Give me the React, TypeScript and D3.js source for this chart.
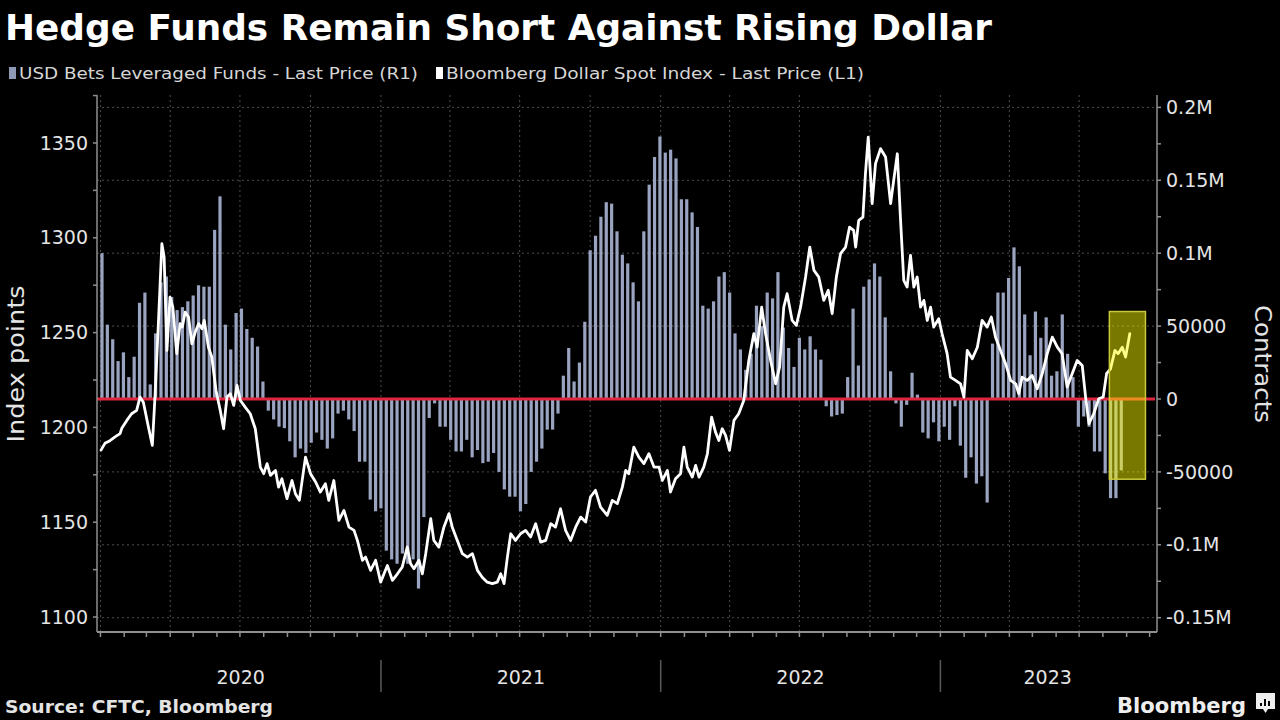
import React from 'react';
import * as d3 from 'd3';

const W = 1280;
const H = 720;

const TITLE = 'Hedge Funds Remain Short Against Rising Dollar';
const LEGEND_BARS = 'USD Bets Leveraged Funds - Last Price (R1)';
const LEGEND_LINE = 'Bloomberg Dollar Spot Index - Last Price (L1)';
const SOURCE = 'Source: CFTC, Bloomberg';
const BRAND = 'Bloomberg';
const LEFT_TITLE = 'Index points';
const RIGHT_TITLE = 'Contracts';

const yearLabels = ['2020', '2021', '2022', '2023'];
const leftTicks = [1100, 1150, 1200, 1250, 1300, 1350];
const rightTicks = [-150000, -100000, -50000, 0, 50000, 100000, 150000, 200000];
const rightTickLabels = ['-0.15M', '-0.1M', '-50000', '0', '50000', '0.1M', '0.15M', '0.2M'];

// CFTC leveraged funds USD net position, weekly from 2020-01-03, thousands of contracts
const betsFirstWeek = new Date(2020, 0, 3);
const usdBetsK = [
  100, 51, 41, 26, 32, 15, 29, 66, 73, 10, 45, 80, 84, 70, 61, 63, 67, 71, 78, 77,
  77, 116, 139, 51, 34, 59, 62, 48, 42, 36, 12, -8, -14, -19, -20, -29, -40, -34, -37, -30,
  -23, -28, -34, -27, -10, -8, -14, -22, -43,
  -43, -69, -77, -75, -104, -110, -113, -106, -113, -110, -130, -81, -13, -3, -19, -19, -28, -36, -36, -28,
  -40, -35, -44, -43, -37, -50, -62, -67, -67, -77, -72, -50, -43, -34, -21, -21, -10, 16, 35, 12,
  25, 53, 102, 112, 125, 135, 134, 115, 99,
  93, 80, 67, 115, 147, 166, 180, 169, 171, 165, 137, 137, 128, 118, 64, 62, 67, 84, 87, 73,
  45, 34, 20, 31, 64, 50, 73, 69, 87, 49, 35, 22, 42, 34, 43, 34, 27, -5, -12, -11,
  -10, 15, 62, 23, 77, 82, 93, 84, 56, 19,
  -3, -19, -4, 18, 3, -23, -27, -16, -29, -19, -28, -5, -32, -54, -40, -58, -53, -71, 38, 73,
  73, 83, 104, 91, 58, 30, 60, 42, 56, 16, 19, 58, 31, 15, -19, -12, -19, -36, -36, -51,
  -68, -68, -49,
];

// Bloomberg Dollar Spot Index: time in years since 2020-01-01, and index level
const dollarYears = [
  0.002, 0.016, 0.034, 0.052, 0.070, 0.076, 0.094, 0.111, 0.129, 0.141, 0.153, 0.171, 0.185, 0.195, 0.207, 0.219, 0.227, 0.237, 0.248, 0.258,
  0.272, 0.284, 0.292, 0.302, 0.314, 0.326, 0.338, 0.350, 0.362, 0.370, 0.385, 0.397, 0.412, 0.427, 0.439, 0.451, 0.463, 0.475, 0.487, 0.499,
  0.516, 0.534, 0.552, 0.570, 0.582, 0.594, 0.606, 0.624, 0.635, 0.647, 0.665, 0.683, 0.695, 0.709, 0.731, 0.749, 0.767, 0.784, 0.802, 0.814,
  0.832, 0.850, 0.868, 0.886, 0.904, 0.916, 0.934,
  0.945, 0.963, 0.981, 0.999, 1.011, 1.023, 1.041, 1.059, 1.076, 1.094, 1.106, 1.118, 1.136, 1.148, 1.160, 1.178, 1.189, 1.207, 1.225, 1.243,
  1.255, 1.273, 1.291, 1.309, 1.327, 1.345, 1.362, 1.380, 1.398, 1.416, 1.428, 1.440, 1.452, 1.464, 1.481, 1.499, 1.517, 1.535, 1.553, 1.571,
  1.589, 1.607, 1.624, 1.642, 1.660, 1.678, 1.696, 1.714, 1.732, 1.749, 1.767, 1.785, 1.809, 1.827, 1.845, 1.863,
  1.875, 1.886, 1.904, 1.922, 1.940, 1.958, 1.976, 1.994, 2.006, 2.024, 2.035, 2.053, 2.071, 2.083, 2.095, 2.113, 2.125, 2.137, 2.154, 2.167,
  2.182, 2.196, 2.208, 2.220, 2.232, 2.246, 2.262, 2.279, 2.297, 2.315, 2.333, 2.345, 2.361, 2.375, 2.393, 2.411, 2.425, 2.440, 2.452, 2.470,
  2.485, 2.500, 2.518, 2.533, 2.548, 2.565, 2.583, 2.599, 2.613, 2.628, 2.643, 2.661, 2.675, 2.690, 2.697, 2.708, 2.723, 2.732, 2.742,
  2.756, 2.768, 2.786, 2.804, 2.822, 2.833, 2.846, 2.857, 2.869, 2.881, 2.893, 2.905, 2.917, 2.929, 2.941, 2.953, 2.965, 2.976, 2.994, 3.006,
  3.024, 3.036, 3.054, 3.072, 3.084, 3.096, 3.114, 3.132, 3.149, 3.167, 3.182, 3.197, 3.215, 3.233, 3.251, 3.269, 3.280, 3.292, 3.310, 3.328,
  3.346, 3.364, 3.382, 3.400, 3.418, 3.435, 3.453, 3.471, 3.489, 3.507, 3.519, 3.531, 3.548, 3.566, 3.582, 3.594, 3.608, 3.624, 3.635, 3.650,
  3.662, 3.677,
];
const dollarValues = [
  1188, 1191.6, 1193, 1195, 1196.7, 1199.5, 1203.7, 1207.2, 1209, 1216, 1213.3, 1200.2, 1190.5, 1217.8, 1256.4, 1296.9, 1289.8, 1240.6, 1268.7, 1263.4,
  1238.9, 1254.7, 1252.9, 1260.8, 1258.2, 1244.1, 1250.3, 1254.7, 1252, 1256.4, 1242.3, 1237.1, 1219.5, 1209, 1199.3, 1216, 1217.8, 1211.6, 1222.1, 1214.2,
  1210.7, 1207.2, 1199.3, 1179.1, 1175.6, 1180.9, 1174.7, 1177.3, 1168.5, 1172.9, 1162.4, 1172, 1165, 1161.5, 1184.3, 1175.6, 1171.2, 1165.9, 1170.3, 1161.5,
  1172, 1151, 1156.2, 1147.4, 1145.7, 1140.4, 1129.9,
  1131.6, 1124.6, 1129.9, 1118.4, 1122.8, 1127.2, 1119.3, 1122.8, 1126.3, 1136.9, 1128.1, 1125.5, 1129.9, 1122.8, 1133.4, 1151.9, 1140.4, 1136.9, 1147.4, 1154.5,
  1147.4, 1140.4, 1133.4, 1131.6, 1133.4, 1124.6, 1121, 1118.4, 1117.6, 1118.4, 1122.8, 1117.6, 1131.6, 1143.9, 1140.4, 1143.9, 1145.7, 1142.2, 1149.2, 1139.5,
  1140.4, 1149.2, 1147.4, 1157.1, 1145.7, 1140.4, 1147.4, 1152.7, 1150.1, 1163.3, 1166.8, 1158, 1153.6, 1161.5, 1159.8, 1168.5,
  1177.3, 1175.6, 1189.6, 1184.3, 1180.9, 1186.1, 1179.1, 1179.1, 1172, 1177.3, 1165.9, 1172.9, 1175.6, 1189.6, 1179.1, 1173.8, 1180, 1173.8, 1179.1, 1186.1,
  1205.4, 1197.5, 1193.1, 1199.3, 1195.8, 1187.9, 1203.7, 1207.2, 1214.2, 1235.3, 1249.4, 1242.3, 1263.4, 1249.4, 1235.3, 1223, 1231.8, 1263.4, 1270.5, 1256.4,
  1253.8, 1263.4, 1279.3, 1295.1, 1282.8, 1279.3, 1267, 1272.3, 1260, 1279.3, 1291.6, 1295.1, 1305.6, 1303.9, 1295.1, 1309.2, 1310.9, 1333.8, 1353.1,
  1318, 1339.1, 1347, 1342.6, 1318, 1330.3, 1344.3, 1310.9, 1277.5, 1274, 1290.7, 1274, 1279.3, 1263.4, 1267, 1256.4, 1263.4, 1252.9, 1257.3, 1249.4,
  1238.9, 1226.5, 1224.8, 1223, 1216, 1240.6, 1236.2, 1242.3, 1256.4, 1252.9, 1258.2, 1247.6, 1240.6, 1233.6, 1224.8, 1223, 1217.8, 1226.5, 1224.8, 1227.4,
  1220.4, 1228.3, 1238.9, 1247.6, 1242.3, 1238.9, 1221.3, 1228.3, 1235.3, 1232.7, 1216, 1202, 1207.2, 1215.1, 1216, 1228.3, 1230.9, 1240.6, 1238.9, 1242.3,
  1237.1, 1249.4,
];

// Highlight annotation (years since 2020, contracts)
const highlightYears = [3.604, 3.733];
const highlightContracts = [-55000, 60000];

const yearsToDate = (t: number) => {
  const y = 2020 + Math.floor(t);
  const s = new Date(y, 0, 1).getTime();
  const e = new Date(y + 1, 0, 1).getTime();
  return new Date(s + (t - Math.floor(t)) * (e - s));
};

const FONT = '"DejaVu Sans", Verdana, sans-serif';

export default function App() {
  const left = 97;
  const right = 1157;
  const top = 95;
  const bottom = 632;

  const x = d3.scaleTime()
    .domain([new Date(2019, 11, 27, 12), new Date(2023, 9, 8)])
    .range([left, 1155]);
  const yL = d3.scaleLinear().domain([1092.1, 1375.3]).range([bottom, top]);
  const yR = d3.scaleLinear().domain([-159800, 208500]).range([bottom, top]);

  const bars = usdBetsK.map((v, i) => ({ date: d3.timeWeek.offset(betsFirstWeek, i), value: v * 1000 }));
  const line = dollarYears.map((t, i) => ({ date: yearsToDate(t), value: dollarValues[i] }));

  const linePath = d3.line<{ date: Date; value: number }>()
    .x((d) => x(d.date))
    .y((d) => yL(d.value))(line) || '';

  const quarters = d3.timeMonth.every(3)!.range(new Date(2020, 0, 1), new Date(2023, 8, 30));
  const months = d3.timeMonth.range(new Date(2020, 0, 1), new Date(2023, 9, 8));
  const years = [2020, 2021, 2022, 2023].map((y) => new Date(y, 0, 1));

  const leftMinor = d3.range(1100, 1376, 25);
  const rightMinor = d3.range(-150000, 200001, 25000);

  const bw = 3.2;
  const hx0 = x(yearsToDate(highlightYears[0]));
  const hx1 = x(yearsToDate(highlightYears[1]));
  const hy0 = yR(highlightContracts[1]);
  const hy1 = yR(highlightContracts[0]);

  const tickColor = '#8f8f8f';
  const labelColor = '#e4e4e4';

  return (
    <svg width={W} height={H} style={{ position: 'absolute', left: 0, top: 0, background: '#000' }} fontFamily={FONT}>
      <rect x={0} y={0} width={W} height={H} fill="#000" />

      {/* Title */}
      <text x={5} y={40} fill="#fff" fontSize={36} fontWeight="bold" textLength={987} lengthAdjust="spacingAndGlyphs">{TITLE}</text>

      {/* Legend */}
      <rect x={9} y={67} width={7} height={12} fill="#8e99b6" />
      <text x={19} y={79} fill="#d6d6d6" fontSize={16} textLength={399} lengthAdjust="spacingAndGlyphs">{LEGEND_BARS}</text>
      <rect x={436} y={67} width={7} height={12} fill="#ffffff" />
      <text x={446} y={79} fill="#d6d6d6" fontSize={16} textLength={418} lengthAdjust="spacingAndGlyphs">{LEGEND_LINE}</text>

      {/* Gridlines */}
      {rightTicks.filter((t) => t !== 0).map((t) => (
        <line key={'hg' + t} x1={left} x2={1155} y1={yR(t)} y2={yR(t)} stroke="#4d4d4d" strokeWidth={1} strokeDasharray="2,3" />
      ))}
      {quarters.map((q) => (
        <line key={'vg' + q.getTime()} x1={x(q)} x2={x(q)} y1={top} y2={bottom} stroke="#4d4d4d" strokeWidth={1} strokeDasharray="2,3" />
      ))}

      {/* Bars */}
      {bars.map((b, i) => (
        <rect
          key={'b' + i}
          x={x(b.date) - bw / 2}
          y={Math.min(yR(b.value), yR(0))}
          width={bw}
          height={Math.abs(yR(b.value) - yR(0))}
          fill="#9aa3bf"
        />
      ))}

      {/* Zero line */}
      <line x1={left} x2={1155} y1={yR(0)} y2={yR(0)} stroke="#e0263f" strokeWidth={3} />

      {/* Dollar index line */}
      <path d={linePath} fill="none" stroke="#ffffff" strokeWidth={2.8} strokeLinejoin="round" strokeLinecap="round" />

      {/* Highlight box */}
      <rect x={hx0} y={hy0} width={hx1 - hx0} height={hy1 - hy0} fill="rgb(255,255,0)" fillOpacity={0.47} stroke="#c9c93a" strokeWidth={1.5} />

      {/* Left axis */}
      <line x1={left} x2={left} y1={top} y2={bottom} stroke={tickColor} strokeWidth={1.5} />
      {leftMinor.map((t) => (
        <line key={'lm' + t} x1={left - 4} x2={left} y1={yL(t)} y2={yL(t)} stroke={tickColor} strokeWidth={1.5} />
      ))}
      {leftTicks.map((t) => (
        <text key={'lt' + t} x={88} y={yL(t)} dy="0.35em" textAnchor="end" fill={labelColor} fontSize={19}>{t}</text>
      ))}
      <text transform={`translate(24,364) rotate(-90)`} textAnchor="middle" fill={labelColor} fontSize={23} textLength={157} lengthAdjust="spacingAndGlyphs">{LEFT_TITLE}</text>

      {/* Right axis */}
      <line x1={right} x2={right} y1={top} y2={bottom} stroke={tickColor} strokeWidth={1.5} />
      {rightMinor.map((t) => (
        <line key={'rm' + t} x1={right} x2={right + 4} y1={yR(t)} y2={yR(t)} stroke={tickColor} strokeWidth={1.5} />
      ))}
      {rightTicks.map((t, i) => (
        <text key={'rt' + t} x={1166} y={yR(t)} dy="0.35em" textAnchor="start" fill={labelColor} fontSize={19}>{rightTickLabels[i]}</text>
      ))}
      <text transform={`translate(1255,364) rotate(90)`} textAnchor="middle" fill={labelColor} fontSize={23} textLength={118} lengthAdjust="spacingAndGlyphs">{RIGHT_TITLE}</text>

      {/* Bottom axis */}
      <line x1={left} x2={right} y1={bottom} y2={bottom} stroke={tickColor} strokeWidth={2} />
      {months.map((m) => (
        <line key={'mt' + m.getTime()} x1={x(m)} x2={x(m)} y1={bottom} y2={bottom + 5} stroke={tickColor} strokeWidth={1.5} />
      ))}
      {years.slice(1).map((y) => (
        <line key={'ys' + y.getTime()} x1={x(y)} x2={x(y)} y1={660} y2={692} stroke="#5a5a5a" strokeWidth={1.5} />
      ))}
      {years.map((y, i) => {
        const s = Math.max(x(y), left);
        const e = Math.min(x(new Date(y.getFullYear() + 1, 0, 1)), 1155);
        return (
          <text key={'yl' + i} x={(s + e) / 2} y={684} textAnchor="middle" fill={labelColor} fontSize={19}>{yearLabels[i]}</text>
        );
      })}

      {/* Footer */}
      <text x={5} y={713} fill="#e4e4e4" fontSize={17} fontWeight="bold" textLength={268} lengthAdjust="spacingAndGlyphs">{SOURCE}</text>
      <text x={1117} y={713} fill="#eeeeee" fontSize={21} fontWeight="bold" textLength={129} lengthAdjust="spacingAndGlyphs">{BRAND}</text>
      <path d="M1256,693 h19 v16 h-7 l-2.5,4 l-2.5,-4 h-7 Z" fill="#eeeeee" />
      <rect x={1260} y={703} width={2} height={3} fill="#000" />
      <rect x={1264} y={699} width={2} height={7} fill="#000" />
      <rect x={1268} y={701} width={2} height={5} fill="#000" />
    </svg>
  );
}
